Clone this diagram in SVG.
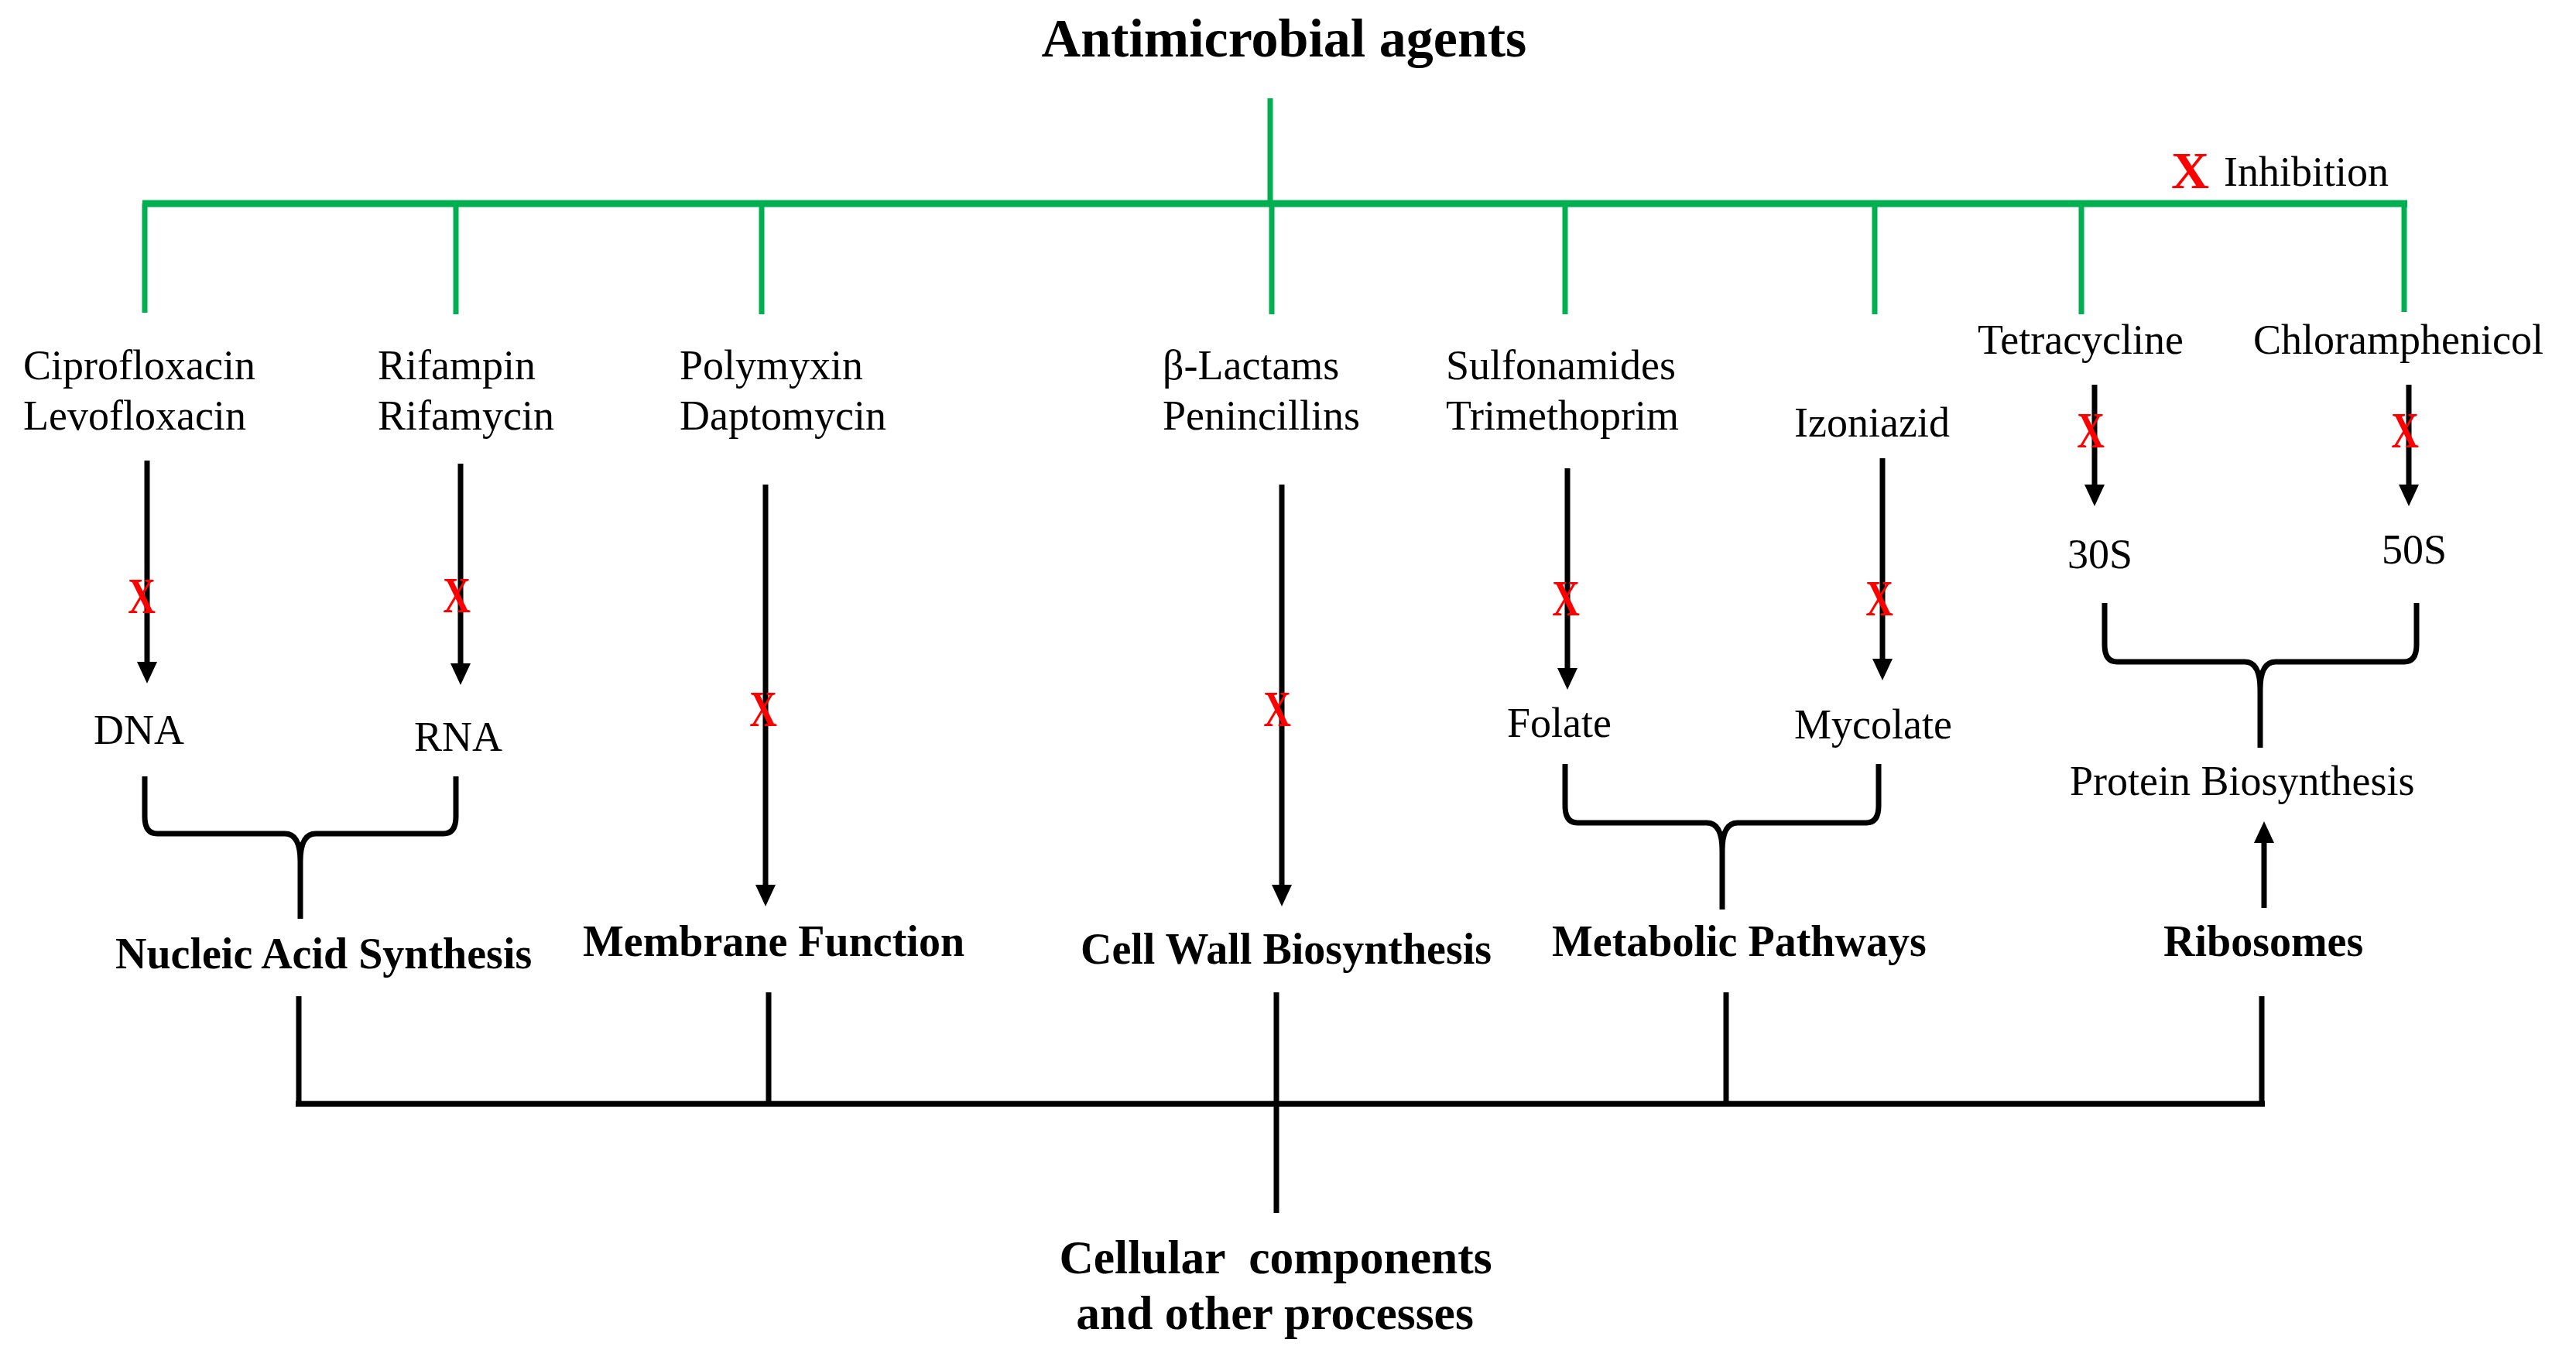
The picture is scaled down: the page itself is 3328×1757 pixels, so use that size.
<svg xmlns="http://www.w3.org/2000/svg" width="3328" height="1757" viewBox="0 0 3328 1757">
<style>
text{font-family:"Liberation Serif","Times New Roman",serif;fill:#000}
.t{font-size:54px}
.b{font-size:56px;font-weight:bold}
.title{font-size:70px;font-weight:bold}
.bot{font-size:61.5px;font-weight:bold}
.rx{font-size:66px;font-weight:bold;fill:#FF0000}
.g{stroke:#00B050;stroke-width:7;fill:none}
.gb{stroke:#00B050;stroke-width:9;fill:none}
.k{stroke:#000;stroke-width:7;fill:none}
.kb{stroke:#000;stroke-width:7.5;fill:none}
</style>
<defs>
<marker id="ah" markerUnits="userSpaceOnUse" markerWidth="28" markerHeight="26" viewBox="0 0 28 26" refX="8" refY="13" orient="auto">
<path d="M0,0 L28,13 L0,26 Z" fill="#000"/>
</marker>
</defs>
<rect width="3328" height="1757" fill="#fff"/>

<g id="connectors">
<g id="green-tree">
<line class="g" x1="1641" y1="127" x2="1641" y2="263"/>
<line class="gb" x1="184" y1="263" x2="3110" y2="263"/>
<line class="g" x1="187" y1="263" x2="187" y2="404"/>
<line class="g" x1="589" y1="263" x2="589" y2="406"/>
<line class="g" x1="984" y1="263" x2="984" y2="406"/>
<line class="g" x1="1643" y1="263" x2="1643" y2="406"/>
<line class="g" x1="2022" y1="263" x2="2022" y2="406"/>
<line class="g" x1="2422" y1="263" x2="2422" y2="406"/>
<line class="g" x1="2689" y1="263" x2="2689" y2="406"/>
<line class="g" x1="3106" y1="263" x2="3106" y2="403"/>
</g>
<g id="arrows">
<line class="k" x1="190" y1="595" x2="190" y2="863" marker-end="url(#ah)"/>
<line class="k" x1="595" y1="599" x2="595" y2="865" marker-end="url(#ah)"/>
<line class="k" x1="989" y1="626" x2="989" y2="1151" marker-end="url(#ah)"/>
<line class="k" x1="1656" y1="626" x2="1656" y2="1151" marker-end="url(#ah)"/>
<line class="k" x1="2025" y1="605" x2="2025" y2="871" marker-end="url(#ah)"/>
<line class="k" x1="2432" y1="592" x2="2432" y2="859" marker-end="url(#ah)"/>
<line class="k" x1="2706" y1="497" x2="2706" y2="634" marker-end="url(#ah)"/>
<line class="k" x1="3112" y1="497" x2="3112" y2="634" marker-end="url(#ah)"/>
<line class="k" x1="2925" y1="1173" x2="2925" y2="1081" marker-end="url(#ah)"/>
</g>
<g id="braces">
<path class="k" d="M187,1003 L187,1055 Q187,1077 203,1077 L368,1077 Q388,1077 388,1113 M589,1003 L589,1055 Q589,1077 573,1077 L408,1077 Q388,1077 388,1113 M388,1105 L388,1187"/>
<path class="k" d="M2022,987 L2022,1041 Q2022,1063 2038,1063 L2205,1063 Q2225,1063 2225,1099 M2427,987 L2427,1041 Q2427,1063 2411,1063 L2245,1063 Q2225,1063 2225,1099 M2225,1091 L2225,1175"/>
<path class="k" d="M2719,779 L2719,833 Q2719,855 2735,855 L2900,855 Q2920,855 2920,891 M3122,779 L3122,833 Q3122,855 3106,855 L2940,855 Q2920,855 2920,891 M2920,883 L2920,966"/>
</g>
<g id="bottom-tree">
<line class="k" x1="386" y1="1287" x2="386" y2="1426"/>
<line class="k" x1="993" y1="1282" x2="993" y2="1426"/>
<line class="k" x1="1649" y1="1282" x2="1649" y2="1567"/>
<line class="k" x1="2230" y1="1282" x2="2230" y2="1426"/>
<line class="k" x1="2922" y1="1287" x2="2922" y2="1426"/>
<line class="kb" x1="382" y1="1426" x2="2926" y2="1426"/>
</g>
</g>

<g id="inhibition-marks">
<text class="rx" transform="translate(183,792) scale(0.75,1)" text-anchor="middle">X</text>
<text class="rx" transform="translate(590,791) scale(0.75,1)" text-anchor="middle">X</text>
<text class="rx" transform="translate(986,938) scale(0.75,1)" text-anchor="middle">X</text>
<text class="rx" transform="translate(1650,938) scale(0.75,1)" text-anchor="middle">X</text>
<text class="rx" transform="translate(2023,795) scale(0.75,1)" text-anchor="middle">X</text>
<text class="rx" transform="translate(2428,795) scale(0.75,1)" text-anchor="middle">X</text>
<text class="rx" transform="translate(2701,578) scale(0.75,1)" text-anchor="middle">X</text>
<text class="rx" transform="translate(3107,578) scale(0.75,1)" text-anchor="middle">X</text>
</g>

<g id="title"><text class="title" x="1659" y="73" text-anchor="middle">Antimicrobial agents</text></g>
<g id="legend">
<text x="2805" y="243" style="font-size:68px;font-weight:bold;fill:#FF0000">X</text>
<text class="t" x="2873" y="240">Inhibition</text>
</g>

<g id="quinolones"><text class="t" x="30" y="490">Ciprofloxacin</text><text class="t" x="30" y="555">Levofloxacin</text></g>
<g id="rifamycins"><text class="t" x="488" y="490">Rifampin</text><text class="t" x="488" y="555">Rifamycin</text></g>
<g id="polymyxins"><text class="t" x="878" y="490">Polymyxin</text><text class="t" x="878" y="555">Daptomycin</text></g>
<g id="betalactams"><text class="t" x="1502" y="490">β-Lactams</text><text class="t" x="1502" y="555">Penincillins</text></g>
<g id="sulfonamides"><text class="t" x="1868" y="490">Sulfonamides</text><text class="t" x="1868" y="555">Trimethoprim</text></g>
<g id="izoniazid"><text class="t" x="2318" y="564">Izoniazid</text></g>
<g id="tetracycline"><text class="t" x="2555" y="457">Tetracycline</text></g>
<g id="chloramphenicol"><text class="t" x="2911" y="457">Chloramphenicol</text></g>

<g id="dna"><text class="t" x="121" y="961">DNA</text></g>
<g id="rna"><text class="t" x="535" y="970">RNA</text></g>
<g id="folate"><text class="t" x="1947" y="952">Folate</text></g>
<g id="mycolate"><text class="t" x="2318" y="954">Mycolate</text></g>
<g id="s30"><text class="t" x="2671" y="734">30S</text></g>
<g id="s50"><text class="t" x="3077" y="728">50S</text></g>
<g id="protein"><text class="t" x="2674" y="1027">Protein Biosynthesis</text></g>

<g id="nucleic"><text class="b" x="149" y="1251">Nucleic Acid Synthesis</text></g>
<g id="membrane"><text class="b" x="753" y="1235">Membrane Function</text></g>
<g id="cellwall"><text class="b" x="1396" y="1245">Cell Wall Biosynthesis</text></g>
<g id="metabolic"><text class="b" x="2005" y="1235">Metabolic Pathways</text></g>
<g id="ribosomes"><text class="b" x="2795" y="1235">Ribosomes</text></g>

<g id="cellular">
<text class="bot" x="1648" y="1645" text-anchor="middle" xml:space="preserve">Cellular  components</text>
<text class="bot" x="1647" y="1717" text-anchor="middle">and other processes</text>
</g>
</svg>
